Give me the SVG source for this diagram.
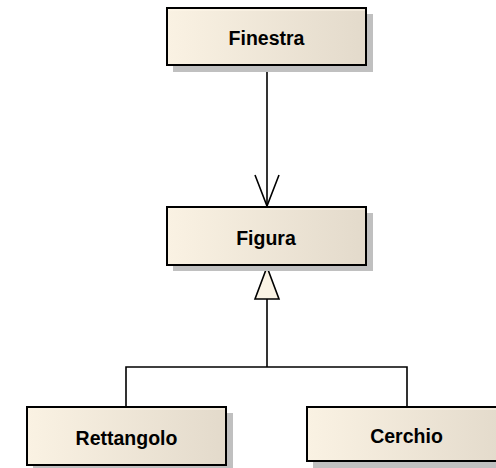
<svg xmlns="http://www.w3.org/2000/svg" width="496" height="468" viewBox="0 0 496 468">
<style>
.shadow{fill:#c0c0c0;stroke:none}
.box{fill:url(#g);stroke:#000;stroke-width:2}
.hl{stroke:#fff8ea;stroke-width:1.2}
.lbl{font-family:"Liberation Sans",Arial,sans-serif;font-weight:bold;font-size:19.5px;fill:#000;text-anchor:middle}
.conn{fill:none;stroke:#000;stroke-width:1.6}
</style>
<defs>
<linearGradient id="g" x1="0" y1="0" x2="1" y2="0">
<stop offset="0" stop-color="#faf2e3"/>
<stop offset="1" stop-color="#e3dacb"/>
</linearGradient>
</defs>
<rect width="496" height="468" fill="#fff"/>
<g id="connectors">
<line class="conn" x1="267" y1="65" x2="267" y2="206"/>
<polyline class="conn" points="255,175 267,206 279,175"/>
<polyline class="conn" points="126,407 126,367 407,367 407,407"/>
<line class="conn" x1="267" y1="299" x2="267" y2="367"/>
<polygon points="267,267 255,299 279,299" fill="#faf3e5" stroke="#000" stroke-width="1.6"/>
</g>
<g id="finestra">
<rect class="shadow" x="173" y="14" width="200" height="58"/>
<rect class="box" x="167" y="8" width="199" height="57"/>
<line class="hl" x1="168" y1="10" x2="365" y2="10"/>
<text class="lbl" x="266.5" y="45">Finestra</text>
</g>
<g id="figura">
<rect class="shadow" x="173" y="213" width="200" height="58"/>
<rect class="box" x="167" y="207" width="199" height="58"/>
<line class="hl" x1="168" y1="209" x2="365" y2="209"/>
<text class="lbl" x="266" y="245">Figura</text>
</g>
<g id="rettangolo">
<rect class="shadow" x="33" y="413" width="200" height="58"/>
<rect class="box" x="27" y="407" width="199" height="58"/>
<line class="hl" x1="28" y1="409" x2="225" y2="409"/>
<text class="lbl" x="126.5" y="444.5">Rettangolo</text>
</g>
<g id="cerchio">
<rect class="shadow" x="313" y="413" width="200" height="58"/>
<rect class="box" x="307" y="407" width="200" height="54"/>
<line class="hl" x1="308" y1="409" x2="506" y2="409"/>
<text class="lbl" x="406.5" y="443">Cerchio</text>
</g>
</svg>
